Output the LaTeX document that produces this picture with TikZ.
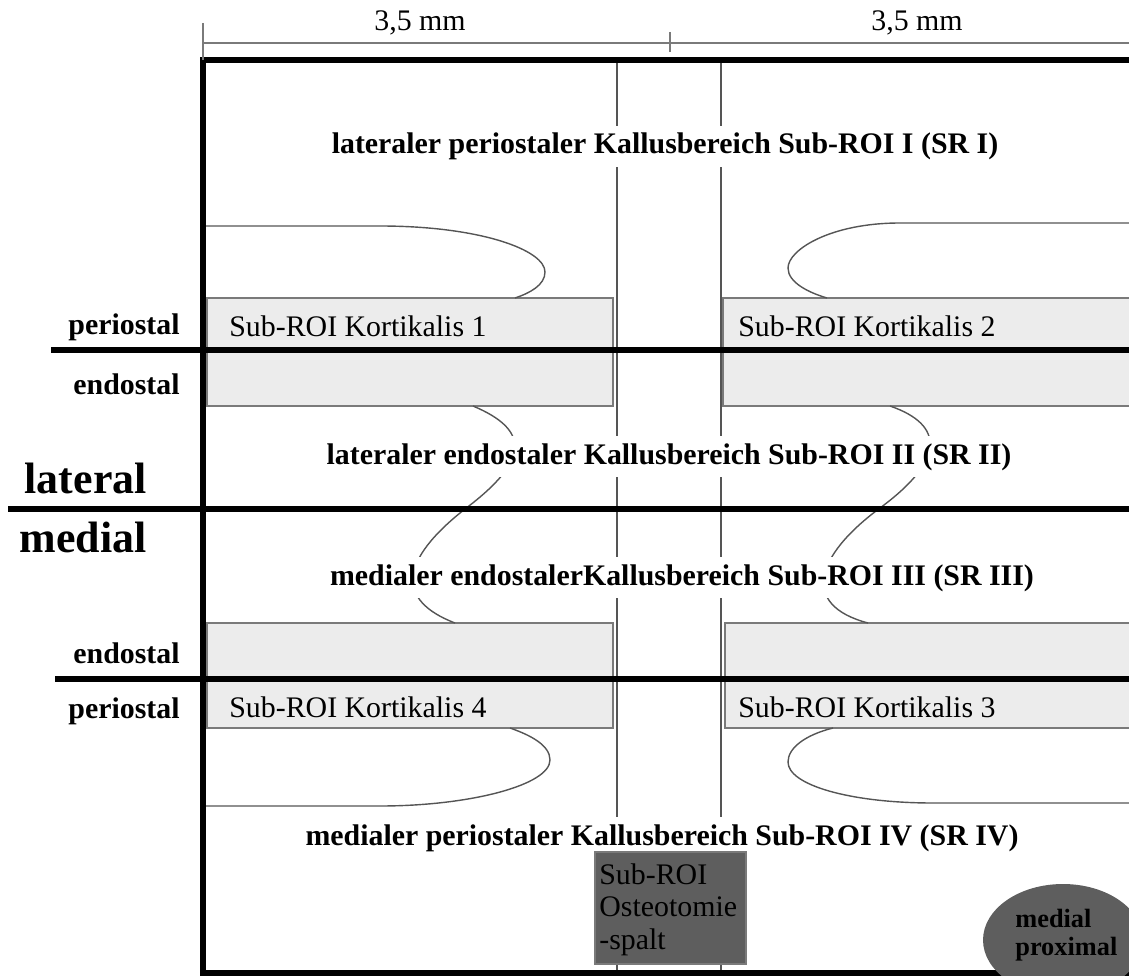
\documentclass[tikz,border=0pt]{standalone}
\usepackage{fontspec}
\setmainfont{Liberation Serif}
\usetikzlibrary{positioning}

\definecolor{cortexgray}{HTML}{ECECEC}
\definecolor{edgegray}{HTML}{7A7A7A}
\definecolor{darkfill}{HTML}{5E5E5E}
\definecolor{linegray}{HTML}{555555}

\begin{document}
\begin{tikzpicture}[x=0.02cm, y=-0.02cm]

\tikzstyle{region} = [font=\fontsize{17}{20}\selectfont\bfseries, fill=white, inner sep=4pt, anchor=base]
\tikzstyle{side} = [font=\fontsize{17}{20}\selectfont\bfseries, inner sep=0pt, anchor=base east]
\tikzstyle{bigside} = [font=\fontsize{25}{28}\selectfont\bfseries, inner sep=0pt, anchor=base east]
\tikzstyle{ctext} = [font=\fontsize{17}{20}\selectfont, inner sep=0pt, anchor=base west]
\tikzstyle{cortex} = [fill=cortexgray, draw=edgegray, line width=0.8pt]
\tikzstyle{thickline} = [line width=3pt, black]
\tikzstyle{gapline} = [line width=1.4pt, linegray]
\tikzstyle{thinline} = [line width=0.8pt, linegray]
\tikzstyle{dim} = [line width=0.9pt, edgegray]

\useasboundingbox (0,0) rectangle (1129,976);
\clip (0,0) rectangle (1129,976);

%% ----------------
%% -- CORTICALIS --
%% ----------------

\draw [cortex] (207,298) rectangle (613,406);
\draw [cortex] (723,298) rectangle (1135,406);
\draw [cortex] (207,623) rectangle (613,728);
\draw [cortex] (725,623) rectangle (1135,728);

% osteotomy gap
\draw [gapline] (617,60) -- (617,973);
\draw [gapline] (721,60) -- (721,973);

% callus borders
\draw [thinline] (205,226) -- (380,226) .. controls (480,226) and (545,250) .. (545,272) .. controls (545,285) and (530,293) .. (515,298);
\draw [thinline] (1135,223) -- (900,223) .. controls (830,223) and (788,250) .. (788,268) .. controls (788,283) and (810,293) .. (827,298);
\draw [thinline] (473,406) .. controls (530,430) and (530,460) .. (465,509) .. controls (400,560) and (395,600) .. (455,623);
\draw [thinline] (890,406) .. controls (945,425) and (945,460) .. (880,508) .. controls (815,556) and (800,605) .. (868,623);
\draw [thinline] (510,728) .. controls (530,735) and (550,745) .. (550,760) .. controls (550,785) and (470,806) .. (380,806) -- (205,806);
\draw [thinline] (833,728) .. controls (805,735) and (788,748) .. (788,762) .. controls (788,785) and (850,803) .. (933,803) -- (1135,803);

% frame and borders
\draw [thickline] (51,350) -- (1135,350);
\draw [thickline] (8,509) -- (1135,509);
\draw [thickline] (55,679) -- (1135,679);
\draw [thickline] (1135,60) -- (203,60) -- (203,973) -- (1135,973);

%% ----------------
%% -- DIMENSIONS --
%% ----------------

\draw [dim] (203,43) -- (1135,43);
\draw [dim] (203,23) -- (203,60);
\draw [dim] (670,32) -- (670,52);
\node (dim_left) [ctext, anchor=base] at (420,31) {3,5 mm};
\node (dim_right) [ctext, anchor=base] at (917,31) {3,5 mm};

%% ------------
%% -- LABELS --
%% ------------

\node (sr_one) [region] at (665,154) {lateraler periostaler Kallusbereich Sub-ROI I (SR I)};
\node (sr_two) [region] at (669,464) {lateraler endostaler Kallusbereich Sub-ROI II (SR II)};
\node (sr_three) [region] at (682,585) {medialer endostalerKallusbereich Sub-ROI III (SR III)};
\node (sr_four) [region] at (662,845) {medialer periostaler Kallusbereich Sub-ROI IV (SR IV)};

\node (kort_one) [ctext] at (229,337) {Sub-ROI Kortikalis 1};
\node (kort_two) [ctext] at (738,337) {Sub-ROI Kortikalis 2};
\node (kort_four) [ctext] at (229,717) {Sub-ROI Kortikalis 4};
\node (kort_three) [ctext] at (738,717) {Sub-ROI Kortikalis 3};

\node (peri_lat) [side] at (180,335) {periostal};
\node (endo_lat) [side] at (180,395) {endostal};
\node (endo_med) [side] at (180,663) {endostal};
\node (peri_med) [side] at (180,718) {periostal};
\node (lateral) [bigside] at (147,493) {lateral};
\node (medial) [bigside] at (147,552) {medial};

% gap box
\draw [fill=darkfill, draw=edgegray, line width=0.8pt] (595,852) rectangle (746,964);
\node (gap_text) [ctext, align=left, anchor=north west, font=\fontsize{17}{18.5}\selectfont] at (599,863) {Sub-ROI\\Osteotomie\\-spalt};

% orientation mark
\fill [darkfill] (1063,940) ellipse [x radius=1.6cm, y radius=1.12cm];
\node (orient) [align=left, anchor=north west, inner sep=0pt, font=\fontsize{15}{16}\selectfont\bfseries] at (1015,909) {medial\\proximal};

\end{tikzpicture}
\end{document}
